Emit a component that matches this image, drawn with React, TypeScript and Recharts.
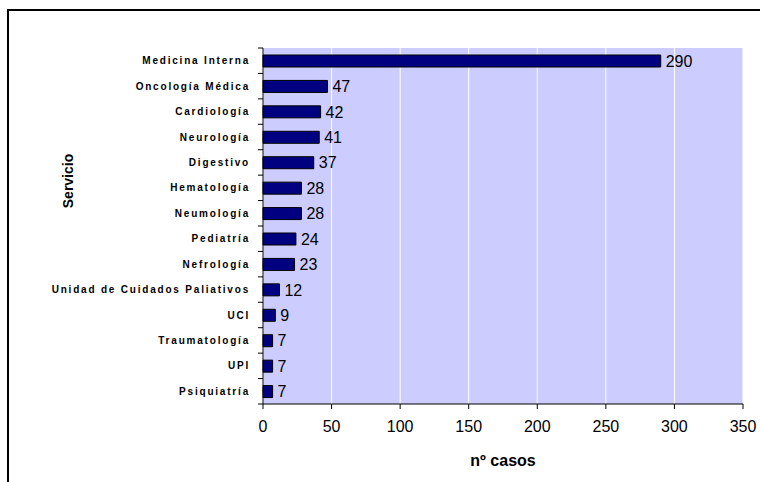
import React from 'react';
import { BarChart, Bar, XAxis, YAxis, CartesianGrid, LabelList } from 'recharts';

const servicios = [
  'Medicina Interna',
  'Oncología Médica',
  'Cardiología',
  'Neurología',
  'Digestivo',
  'Hematología',
  'Neumología',
  'Pediatría',
  'Nefrología',
  'Unidad de Cuidados Paliativos',
  'UCI',
  'Traumatología',
  'UPI',
  'Psiquiatría',
];
const casos = [290, 47, 42, 41, 37, 28, 28, 24, 23, 12, 9, 7, 7, 7];
const xTicks = [0, 50, 100, 150, 200, 250, 300, 350];

const data = servicios.map((s, i) => ({ servicio: s, casos: casos[i] }));

const W = 760;
const H = 482;
const margin = { top: 48, right: 17, bottom: 18, left: 13 };
const Y_AXIS_W = 250;
const X_AXIS_H = 60;
const plotH = H - margin.top - margin.bottom - X_AXIS_H;
const band = plotH / servicios.length;

function CategoryTick(props: any) {
  const { x, y, payload, index } = props;
  const axisX = x + 15;
  return (
    <g>
      <line x1={axisX - 5} x2={axisX} y1={y - band / 2} y2={y - band / 2} stroke="#000" />
      {index === servicios.length - 1 && (
        <line x1={axisX - 5} x2={axisX} y1={y + band / 2} y2={y + band / 2} stroke="#000" />
      )}
      <text
        x={x + 2}
        y={y}
        dy={3.5}
        textAnchor="end"
        fontFamily="'Liberation Sans', Arial, sans-serif"
        fontWeight="bold"
        fontSize={10}
        letterSpacing={1.8}
        fill="#000"
      >
        {payload.value}
      </text>
    </g>
  );
}

export default function App() {
  return (
    <div style={{ position: 'absolute', left: 0, top: 0, width: W, height: H, overflow: 'hidden', background: '#fff' }}>
      <div
        style={{
          position: 'absolute',
          left: 7,
          top: 9,
          width: W,
          height: H,
          borderLeft: '2px solid #000',
          borderTop: '2px solid #000',
        }}
      />
      <div
        style={{
          position: 'absolute',
          left: 68,
          top: 181,
          transform: 'translate(-50%, -50%) rotate(-90deg)',
          fontFamily: "'Liberation Sans', Arial, sans-serif",
          fontWeight: 'bold',
          fontSize: 14,
          whiteSpace: 'nowrap',
        }}
      >
        Servicio
      </div>
      <div style={{ position: 'absolute', left: 0, top: 0 }}>
        <BarChart width={W} height={H} data={data} layout="vertical" margin={margin}>
          <CartesianGrid horizontal={false} vertical={true} stroke="#fff" fill="#CCCCFF" />
          <XAxis
            type="number"
            domain={[0, 350]}
            ticks={xTicks}
            interval={0}
            height={X_AXIS_H}
            axisLine={{ stroke: '#000' }}
            tickLine={{ stroke: '#000' }}
            tickSize={5}
            tickMargin={12}
            tick={{ fill: '#000', fontSize: 16, fontFamily: "'Liberation Sans', Arial, sans-serif" }}
            label={{
              value: 'nº casos',
              position: 'insideBottom',
              offset: -2,
              fill: '#000',
              fontSize: 16,
              fontWeight: 'bold',
              fontFamily: "'Liberation Sans', Arial, sans-serif",
            }}
          />
          <XAxis
            xAxisId="top"
            orientation="top"
            type="number"
            domain={[0, 350]}
            height={0}
            tick={false}
            tickLine={false}
            axisLine={{ stroke: '#999' }}
          />
          <YAxis
            type="category"
            dataKey="servicio"
            width={Y_AXIS_W}
            interval={0}
            axisLine={{ stroke: '#000' }}
            tickLine={false}
            tickSize={5}
            tickMargin={10}
            tick={<CategoryTick />}
          />
          <YAxis
            yAxisId="right"
            orientation="right"
            type="category"
            dataKey="servicio"
            width={0}
            tick={false}
            tickLine={false}
            axisLine={{ stroke: '#999' }}
          />
          <Bar dataKey="casos" barSize={12} fill="#000080" stroke="#000" strokeWidth={1} isAnimationActive={false}>
            <LabelList
              dataKey="casos"
              position="right"
              offset={5}
              fill="#000"
              fontSize={16}
              fontFamily="'Liberation Sans', Arial, sans-serif"
            />
          </Bar>
        </BarChart>
      </div>
    </div>
  );
}
